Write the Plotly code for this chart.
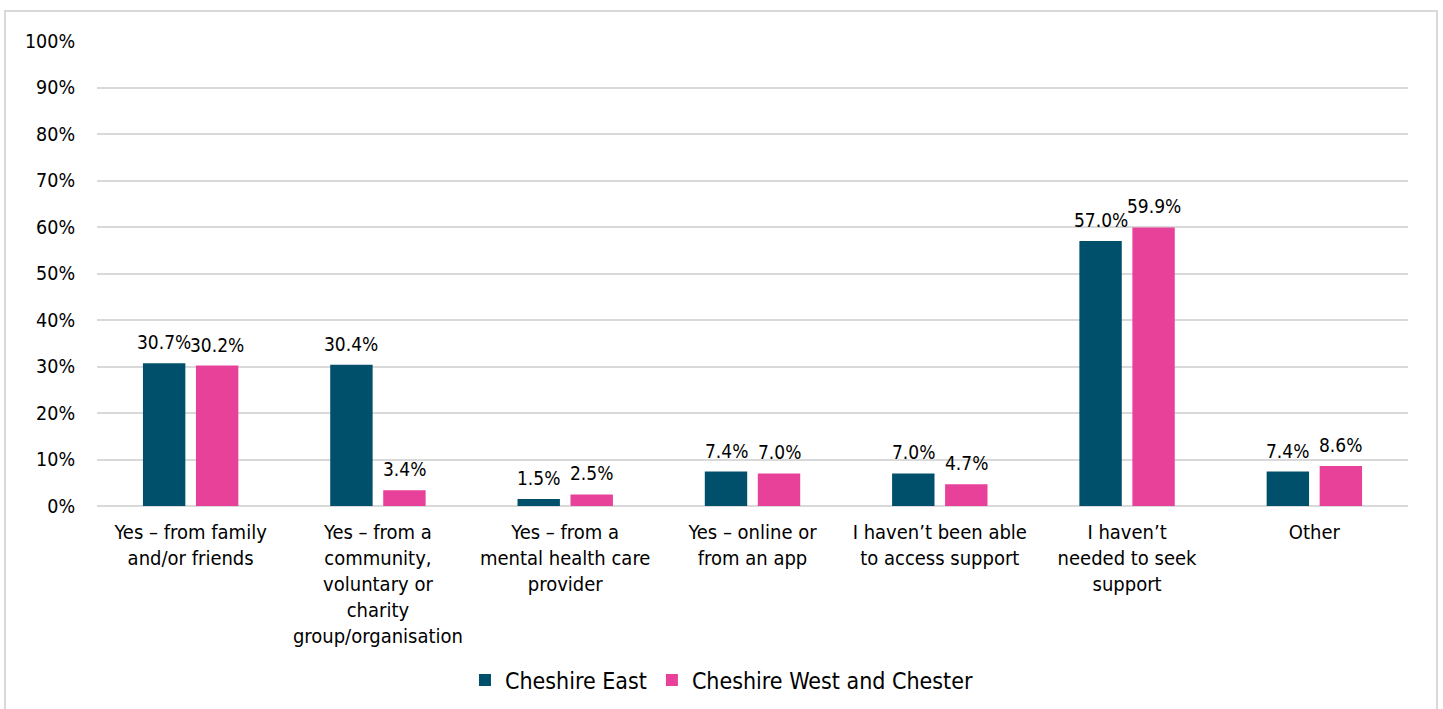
import plotly.graph_objects as go

categories = [
    "Yes – from family<br>and/or friends",
    "Yes – from a<br>community,<br>voluntary or<br>charity<br>group/organisation",
    "Yes – from a<br>mental health care<br>provider",
    "Yes – online or<br>from an app",
    "I haven’t been able<br>to access support",
    "I haven’t<br>needed to seek<br>support",
    "Other",
]
cheshire_east = [30.7, 30.4, 1.5, 7.4, 7.0, 57.0, 7.4]
cheshire_west = [30.2, 3.4, 2.5, 7.0, 4.7, 59.9, 8.6]
series_names = ["Cheshire East", "Cheshire West and Chester"]
y_ticks = list(range(0, 101, 10))
y_tick_text = [f"{v}%" for v in y_ticks]

FONT = "DejaVu Sans Condensed, DejaVu Sans, sans-serif"
TEAL = "#00506B"
PINK = "#E8419A"

W, H = 1443, 709
L, R, T, B = 97, 35, 41, 203
pw, ph = W - L - R, H - T - B

def px(x):
    return (x - L) / pw

def py(y):
    return (H - B - y) / ph

fig = go.Figure()
annotations = []
series = [(series_names[0], cheshire_east, TEAL, -26.5), (series_names[1], cheshire_west, PINK, 26.5)]
for name, vals, col, shift in series:
    fig.add_trace(go.Bar(
        x=categories, y=vals, name=name, marker_color=col,
        marker_line_width=0, hoverinfo="x+y",
    ))
    for c, v in zip(categories, vals):
        annotations.append(dict(
            x=c, y=v, xref="x", yref="y", text=f"{v:.1f}%", showarrow=False,
            xanchor="center", yanchor="bottom", xshift=shift, yshift=8,
            font=dict(family=FONT, size=19, color="#000000"),
        ))

fig.add_shape(type="rect", xref="paper", yref="paper",
              x0=px(5), x1=px(1437), y0=py(715), y1=py(11),
              line=dict(color="#D9D9D9", width=2), fillcolor="rgba(0,0,0,0)", layer="below")

fig.update_layout(
    width=W, height=H,
    margin=dict(l=L, r=R, t=T, b=B, autoexpand=False),
    paper_bgcolor="white", plot_bgcolor="white",
    barmode="group", bargap=0.434, bargroupgap=0.2,
    font=dict(family=FONT, size=19, color="#000000"),
    annotations=annotations,
    legend=dict(orientation="h", x=px(978), xanchor="right", y=py(680), yanchor="middle",
                font=dict(family=FONT, size=23, color="#000000"), itemwidth=30,
                traceorder="normal"),
    xaxis=dict(showgrid=False, showline=False, ticks="outside", tickcolor="rgba(0,0,0,0)", ticklen=8,
               tickfont=dict(family=FONT, size=20)),
    yaxis=dict(range=[0, 100], tickmode="array", tickvals=y_ticks, ticktext=y_tick_text,
               showgrid=True,
               gridcolor="#D9D9D9", gridwidth=1.5, zeroline=True, zerolinecolor="#D9D9D9",
               zerolinewidth=1.5, showline=False, ticks="outside", tickcolor="rgba(0,0,0,0)",
               ticklen=17, tickfont=dict(family=FONT, size=19.5)),
)

fig.write_html("out.html")
